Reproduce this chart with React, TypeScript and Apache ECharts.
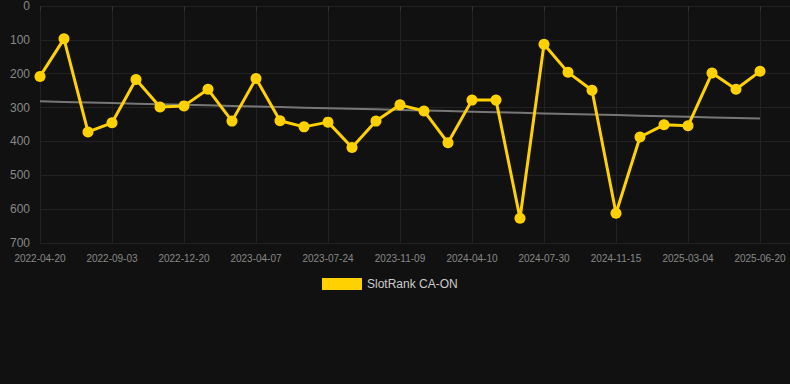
import React, { useEffect, useRef } from "react";
import * as echarts from "echarts";

const dates = [
  "2022-04-20", "2022-06-04", "2022-07-19", "2022-09-03", "2022-10-09", "2022-11-14",
  "2022-12-20", "2023-01-25", "2023-03-02", "2023-04-07", "2023-05-13", "2023-06-18",
  "2023-07-24", "2023-08-29", "2023-10-04", "2023-11-09", "2023-12-29", "2024-02-19",
  "2024-04-10", "2024-05-17", "2024-06-23", "2024-07-30", "2024-09-04", "2024-10-10",
  "2024-11-15", "2024-12-21", "2025-01-26", "2025-03-04", "2025-04-08", "2025-05-14",
  "2025-06-20",
];

const ranks = [
  208, 97, 372, 345, 217, 298, 295, 246, 340, 214,
  339, 357, 343, 418, 340, 292, 310, 404, 278, 278,
  627, 113, 196, 249, 612, 387, 351, 354, 198, 246,
  193,
];

const seriesName = "SlotRank CA-ON";

function trendValues(values: number[]): number[] {
  const n = values.length;
  let sx = 0, sy = 0, sxy = 0, sxx = 0;
  values.forEach((v, i) => {
    sx += i; sy += v; sxy += i * v; sxx += i * i;
  });
  const slope = (n * sxy - sx * sy) / (n * sxx - sx * sx);
  const intercept = (sy - slope * sx) / n;
  return values.map((_, i) => intercept + slope * i);
}

const font = "Arial, 'Liberation Sans', sans-serif";

export default function App() {
  const ref = useRef<HTMLDivElement>(null);
  useEffect(() => {
    if (!ref.current) return;
    const chart = echarts.init(ref.current, null, { renderer: "svg" });
    chart.setOption({
      animation: false,
      backgroundColor: "#111111",
      grid: [
        { left: 40, right: 30, top: 6, bottom: 141 },
        { left: 40, right: 0, top: 6, bottom: 141 },
      ],
      legend: {
        top: 278,
        left: 322,
        padding: 0,
        data: [seriesName],
        itemWidth: 40,
        itemHeight: 12,
        itemGap: 10,
        icon: "rect",
        textStyle: { color: "#cccccc", fontSize: 12, fontFamily: font },
      },
      xAxis: [
        {
          type: "category",
          gridIndex: 0,
          data: dates,
          boundaryGap: false,
          axisLine: { show: true, lineStyle: { color: "#222222" } },
          axisTick: { show: true, interval: 2, lineStyle: { color: "#333333" } },
          axisLabel: {
            interval: 2,
            color: "#888888",
            fontSize: 10,
            margin: 10,
            fontFamily: font,
          },
          splitLine: { show: true, interval: 2, lineStyle: { color: "#222222", width: 1 } },
        },
        {
          type: "value",
          gridIndex: 1,
          min: 0,
          max: 1,
          show: false,
        },
      ],
      yAxis: [
        {
          type: "value",
          gridIndex: 0,
          inverse: true,
          min: 0,
          max: 700,
          interval: 100,
          axisLine: { show: false },
          axisTick: { show: false },
          axisLabel: {
            color: "#888888",
            fontSize: 12,
            margin: 10,
            fontFamily: font,
          },
          splitLine: { show: false },
        },
        {
          type: "value",
          gridIndex: 1,
          inverse: true,
          min: 0,
          max: 700,
          interval: 100,
          axisLine: { show: false },
          axisTick: { show: false },
          axisLabel: { show: false },
          splitLine: { show: true, lineStyle: { color: "#222222", width: 1 } },
        },
      ],
      series: [
        {
          name: "Trend",
          type: "line",
          xAxisIndex: 0,
          yAxisIndex: 0,
          data: trendValues(ranks),
          symbol: "none",
          lineStyle: { color: "#777777", width: 2 },
          itemStyle: { color: "#777777" },
          z: 1,
        },
        {
          name: seriesName,
          type: "line",
          xAxisIndex: 0,
          yAxisIndex: 0,
          data: ranks,
          symbol: "circle",
          symbolSize: 11,
          lineStyle: { color: "#FFD100", width: 3 },
          itemStyle: { color: "#FFD100" },
          z: 2,
        },
      ],
    });
    return () => chart.dispose();
  }, []);
  return (
    <div
      ref={ref}
      style={{ position: "fixed", left: 0, top: 0, width: 790, height: 384 }}
    />
  );
}
